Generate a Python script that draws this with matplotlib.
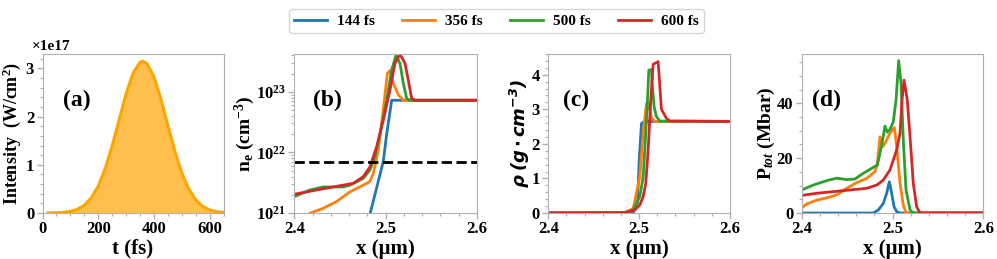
import matplotlib
matplotlib.use("Agg")
import matplotlib.pyplot as plt
from matplotlib.ticker import ScalarFormatter

plt.rcParams.update({
    "font.family": "serif",
    "font.serif": ["Liberation Serif", "DejaVu Serif"],
    "font.weight": "bold",
    "axes.labelweight": "bold",
    "mathtext.fontset": "custom",
    "mathtext.rm": "Liberation Serif:bold",
    "mathtext.bf": "Liberation Serif:bold",
    "mathtext.it": "Liberation Serif:bold:italic",
    "mathtext.sf": "DejaVu Sans:bold:italic",
    "axes.edgecolor": "#b0b0b0",
    "xtick.color": "#b0b0b0",
    "ytick.color": "#b0b0b0",
    "xtick.labelcolor": "black",
    "ytick.labelcolor": "black",
    "xtick.labelsize": 12,
    "ytick.labelsize": 12,
})

# (a) laser pulse intensity
t_fs = [20, 25, 50, 75, 100, 125, 150, 175, 200, 225, 250, 275, 300, 325, 350, 360,
        375, 400, 425, 450, 475, 500, 525, 550, 575, 600, 625, 650]
intensity = [0.0013, 0.0016, 0.0047, 0.013, 0.033, 0.075, 0.160, 0.312, 0.557, 0.917,
             1.39, 1.93, 2.47, 2.90, 3.13, 3.15, 3.10, 2.83, 2.37, 1.82, 1.29, 0.838,
             0.50, 0.276, 0.138, 0.064, 0.027, 0.0107]
intensity = [v * 1e17 for v in intensity]

labels = ["144 fs", "356 fs", "500 fs", "600 fs"]
colors = ["#1f77b4", "#ff7f0e", "#2ca02c", "#d62728"]

# (b) electron density
ne_x = [
    [2.482, 2.4974, 2.5011, 2.5066, 2.6],
    [2.4150, 2.4179, 2.4318, 2.4464, 2.461, 2.4755, 2.4828, 2.4865, 2.492, 2.4974,
     2.5018, 2.5047, 2.5084, 2.5139, 2.5193, 2.6],
    [2.4, 2.4172, 2.4318, 2.4536, 2.461, 2.4755, 2.4828, 2.4883, 2.4938, 2.5011,
     2.5066, 2.5113, 2.5157, 2.5193, 2.523, 2.5266, 2.6],
    [2.4, 2.4245, 2.45, 2.4646, 2.4755, 2.4828, 2.4901, 2.4974, 2.5047, 2.5102,
     2.5157, 2.5212, 2.5248, 2.5285, 2.5321, 2.6],
]
ne_y = [
    [8.5e20, 7.08e21, 2.0e22, 7.24e22, 7.24e22],
    [9.5e20, 1.0e21, 1.20e21, 1.55e21, 2.24e21, 2.88e21, 3.31e21, 4.47e21, 1.10e22,
     5.01e22, 2.0e23, 2.24e23, 1.38e23, 8.91e22, 7.24e22, 7.24e22],
    [1.86e21, 2.40e21, 2.69e21, 2.69e21, 2.88e21, 3.72e21, 5.13e21, 8.51e21, 2.04e22,
     7.24e22, 2.29e23, 3.98e23, 2.95e23, 1.38e23, 7.76e22, 7.24e22, 7.24e22],
    [2.04e21, 2.40e21, 2.82e21, 3.09e21, 3.98e21, 5.75e21, 1.23e22, 3.39e22, 1.07e23,
     2.95e23, 4.17e23, 2.95e23, 1.55e23, 7.76e22, 7.24e22, 7.24e22],
]
n_crit = 7.0e21

# (c) mass density
rho_x = [
    [2.4, 2.4934, 2.4982, 2.5, 2.5026, 2.5062, 2.6],
    [2.4, 2.4842, 2.4934, 2.5007, 2.5044, 2.5081, 2.5099, 2.5136, 2.5172, 2.6],
    [2.4, 2.4842, 2.4934, 2.5007, 2.5044, 2.5062, 2.5092, 2.5106, 2.5136, 2.5143,
     2.5165, 2.519, 2.5227, 2.6],
    [2.4, 2.4842, 2.4952, 2.5007, 2.5044, 2.5073, 2.5099, 2.5128, 2.5154, 2.5209,
     2.5245, 2.53, 2.5337, 2.6],
]
rho_y = [
    [0, 0, 0.3, 1.5, 2.59, 2.65, 2.65],
    [0, 0.01, 0.13, 1.05, 2.3, 3.17, 3.2, 2.75, 2.65, 2.65],
    [0, 0.01, 0.08, 0.47, 1.05, 1.82, 3.27, 4.13, 4.15, 3.75, 3.07, 2.79, 2.66, 2.65],
    [0, 0.01, 0.09, 0.23, 0.47, 0.86, 1.82, 3.27, 4.3, 4.38, 3.0, 2.74, 2.66, 2.65],
]

# (d) total pressure
p_x = [
    [2.4, 2.4789, 2.4844, 2.4899, 2.4936, 2.4965, 2.4991, 2.5017, 2.5046, 2.5083, 2.6],
    [2.4, 2.4055, 2.4165, 2.4275, 2.4385, 2.4495, 2.4606, 2.4716, 2.4807, 2.4833,
     2.4862, 2.4892, 2.4917, 2.4972, 2.502, 2.5046, 2.5083, 2.5119, 2.5149, 2.6],
    [2.4, 2.4128, 2.4275, 2.4385, 2.4495, 2.4587, 2.4679, 2.4771, 2.4833, 2.4881,
     2.4917, 2.4943, 2.4972, 2.5009, 2.5039, 2.5068, 2.5094, 2.5119, 2.5149, 2.5193,
     2.5229, 2.6],
    [2.4, 2.4165, 2.4349, 2.4532, 2.4716, 2.4826, 2.4899, 2.4972, 2.5046, 2.5083,
     2.5105, 2.5127, 2.5163, 2.5193, 2.5229, 2.5266, 2.5303, 2.6],
]
p_y = [
    [0, 0, 1.1, 3.5, 7.2, 11.4, 7.2, 2.3, 0.5, 0, 0],
    [1.8, 3.3, 4.7, 5.5, 6.6, 9.0, 11.1, 12.6, 15.1, 18.1, 27.8, 24.2, 25.4, 29.1,
     31.2, 24.2, 10.8, 2.9, 0, 0],
    [8.4, 10.2, 11.8, 12.7, 12.2, 12.4, 14.5, 16.3, 17.5, 24.8, 31.7, 29.5, 30.5,
     33.3, 41.2, 55.6, 47.3, 26.6, 8.4, 1.1, 0, 0],
    [6.4, 7.2, 7.8, 8.4, 9.0, 10.2, 12.0, 15.7, 23.0, 29.1, 41.2, 48.5, 41.2, 27.8,
     10.8, 2.3, 0, 0],
]


class TimesFormatter(ScalarFormatter):
    def get_offset(self):
        s = super().get_offset()
        return "\u00d7" + s if s else s


W, H = 997, 259
fig = plt.figure(figsize=(W / 100, H / 100), dpi=100)
bottom, height = 1 - 213 / H, 159 / H
lefts = [42.5, 294.3, 548.3, 801.7]
widths = [181, 182.7, 181.7, 181.6]
axes = [fig.add_axes([l / W, bottom, w / W, height]) for l, w in zip(lefts, widths)]

# (a)
ax = axes[0]
ax.fill_between(t_fs, intensity, color="#ffa500", alpha=0.7, lw=0)
ax.plot(t_fs, intensity, color="#ffa500", lw=2.2)
ax.set_xlim(0, 650)
ax.set_ylim(0, 3.3e17)
ax.set_xticks([0, 200, 400, 600])
ax.set_yticks([0, 1e17, 2e17, 3e17])
fmt = TimesFormatter(useMathText=False)
fmt.set_scientific(True)
ax.yaxis.set_major_formatter(fmt)
ax.yaxis.get_offset_text().set_fontsize(11)
ax.yaxis.get_offset_text().set_x(-0.06)
ax.set_xlabel("t (fs)", fontsize=15, labelpad=1)
ax.set_ylabel(r"Intensity  (W/cm$^{\mathbf{2}}$)", fontsize=13, labelpad=2)

# (b)
ax = axes[1]
for xs, ys, c, lab in zip(ne_x, ne_y, colors, labels):
    ax.plot(xs, ys, color=c, lw=2, label=lab)
ax.axhline(n_crit, color="black", ls="--", lw=2)
ax.set_yscale("log")
ax.set_ylim(1e21, 4.2e23)
ax.set_yticks([1e21, 1e22, 1e23])
ax.set_ylabel(r"n$_{\mathbf{e}}$ (cm$^{\mathbf{-3}}$)", fontsize=14, labelpad=-1)

# (c)
ax = axes[2]
for xs, ys, c in zip(rho_x, rho_y, colors):
    ax.plot(xs, ys, color=c, lw=2)
ax.set_ylim(0, 4.6)
ax.set_yticks([0, 1, 2, 3, 4])
ax.set_ylabel(r"$\mathsf{\rho\ (g \cdot cm^{-3})}$", fontsize=13, labelpad=0)

# (d)
ax = axes[3]
for xs, ys, c in zip(p_x, p_y, colors):
    ax.plot(xs, ys, color=c, lw=2)
ax.set_ylim(0, 58)
ax.set_yticks([0, 20, 40])
ax.set_ylabel(r"P$_{\mathit{tot}}$ (Mbar)", fontsize=14, labelpad=0)

for ax in axes[1:]:
    ax.set_xlim(2.4, 2.6)
    ax.set_xticks([2.4, 2.5, 2.6])
    ax.set_xlabel("x (\u03bcm)", fontsize=15, labelpad=1)

panel_pos = [0.113, 0.10, 0.08, 0.055]
for ax, tag, px in zip(axes, "abcd", panel_pos):
    ax.minorticks_on()
    ax.tick_params(which="major", length=4, width=1, pad=2)
    ax.tick_params(which="minor", length=2, width=0.8)
    ax.text(px, 0.71, f"({tag})", transform=ax.transAxes, fontsize=17,
            ha="left", va="center")

fig.canvas.draw()
for ax in axes:
    for lab in ax.get_xticklabels() + ax.get_yticklabels():
        lab.set_fontweight("bold")
    ax.yaxis.get_offset_text().set_fontweight("bold")

handles, labs = axes[1].get_legend_handles_labels()
fig.legend(handles, labs, loc="upper center", bbox_to_anchor=(0.498, 0.995),
           ncol=4, fontsize=11, handlelength=2.15, columnspacing=1.8,
           handletextpad=0.65, borderpad=0.35)

fig.savefig("out.png", dpi=100)
